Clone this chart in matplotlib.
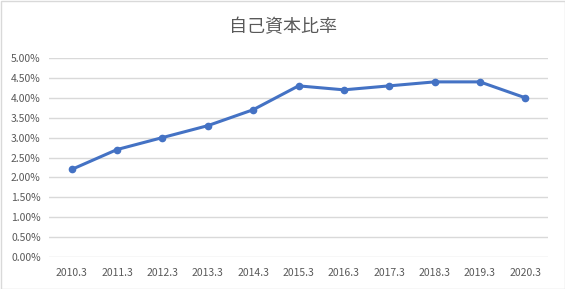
import matplotlib.pyplot as plt
from matplotlib.patches import Rectangle
from matplotlib.ticker import FuncFormatter

plt.rcParams['font.family'] = ['Noto Sans CJK JP', 'DejaVu Sans']

# data
years = ['2010.3', '2011.3', '2012.3', '2013.3', '2014.3', '2015.3',
         '2016.3', '2017.3', '2018.3', '2019.3', '2020.3']
ratio = [2.2, 2.7, 3.0, 3.3, 3.7, 4.3, 4.2, 4.3, 4.4, 4.4, 4.0]

text_color = '#595959'
line_color = '#4472C4'

fig = plt.figure(figsize=(5.65, 2.89), dpi=100)
ax = fig.add_axes([49 / 565, 32 / 289, (548 - 49) / 565, (257 - 58) / 289])

x = list(range(len(years)))
ax.plot(x, ratio, color=line_color, linewidth=2.2, marker='o', markersize=4.5, zorder=3)

ax.set_xlim(-0.5, len(years) - 0.5)
ax.set_ylim(0, 5)
ax.set_yticks([i * 0.5 for i in range(11)])
ax.yaxis.set_major_formatter(FuncFormatter(lambda v, p: f'{v:.2f}%'))
ax.set_xticks(x)
ax.set_xticklabels(years)

ax.grid(axis='y', color='#D9D9D9', linewidth=1)
ax.set_axisbelow(True)
for s in ax.spines.values():
    s.set_visible(False)
ax.tick_params(length=0, labelsize=7.5, colors=text_color)
ax.tick_params(axis='x', pad=8)
ax.tick_params(axis='y', pad=6)

fig.text(0.5, 0.905, '自己資本比率', ha='center', va='center', fontsize=13, color=text_color)

# outer border
fig.patches.append(Rectangle((0.5 / 565, 0.5 / 289), 1 - 1 / 565, 1 - 1 / 289,
                             transform=fig.transFigure, fill=False,
                             edgecolor='#D9D9D9', linewidth=1))

fig.savefig('out.png', dpi=100)
